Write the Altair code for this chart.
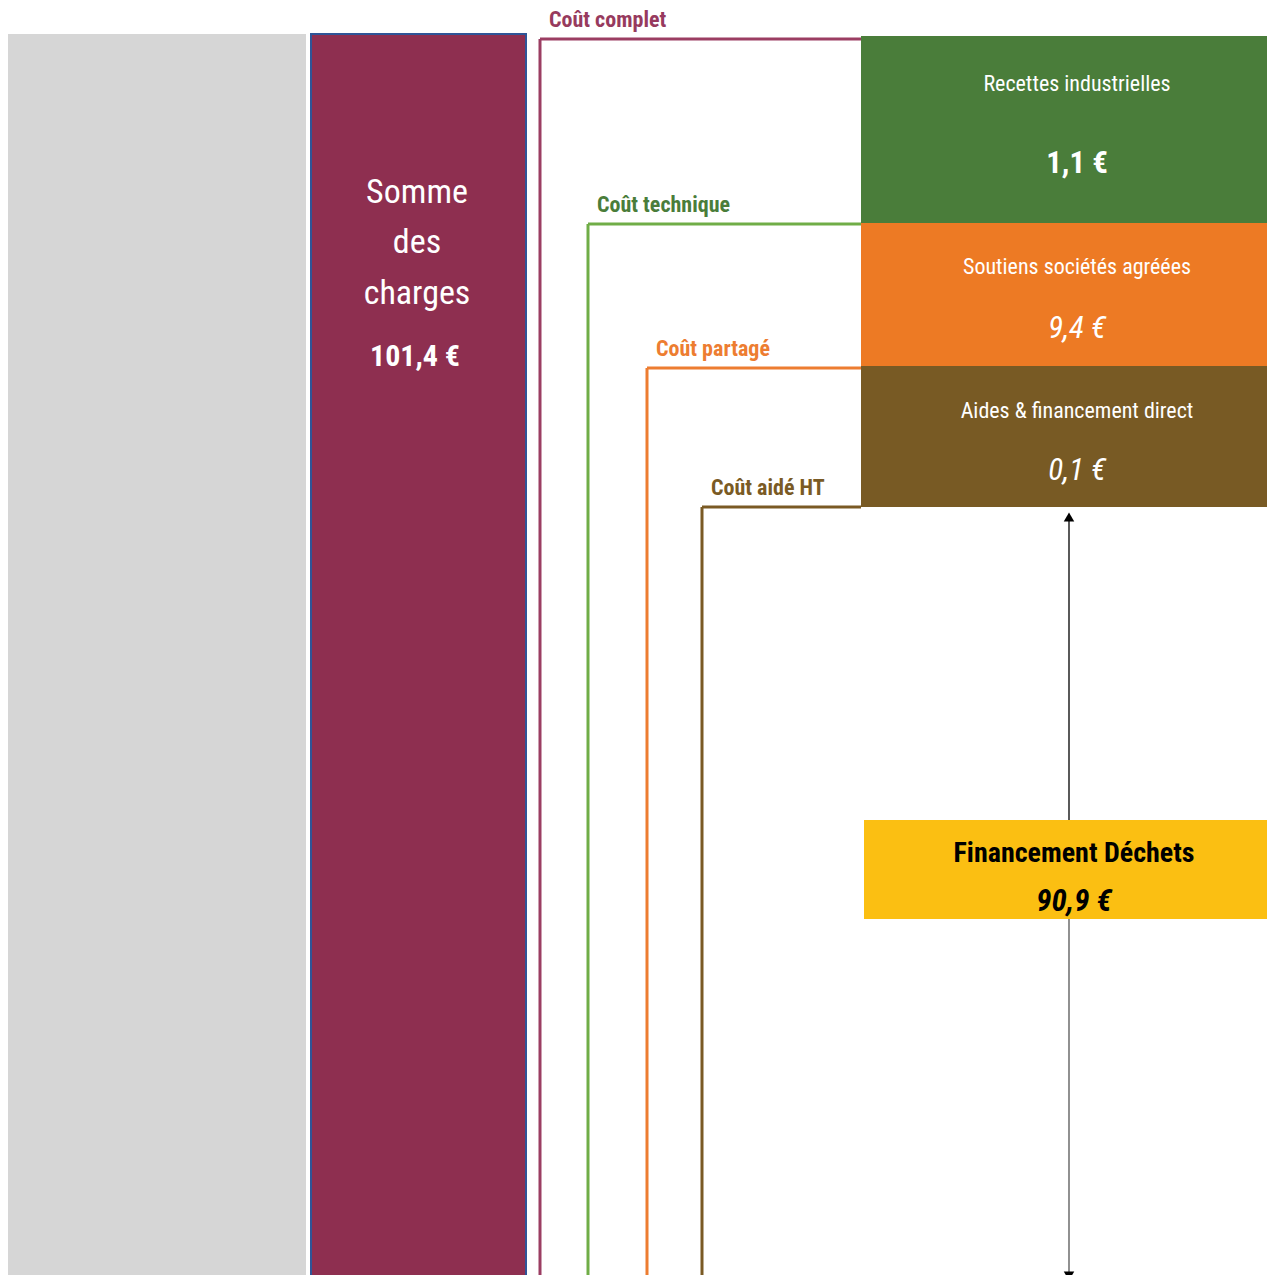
import altair as alt
import pandas as pd

# ---- values ----
total_label = "Somme des charges"
total_value = 101.4
segments = ["Recettes industrielles", "Soutiens sociétés agréées", "Aides & financement direct"]
segment_values = [1.1, 9.4, 0.1]
funding_label = "Financement Déchets"
funding_value = 90.9
cost_levels = ["Coût complet", "Coût technique", "Coût partagé", "Coût aidé HT"]

# ---- schematic layout (diagram units) ----
seg_top = [36, 223, 366]
seg_bottom = [223, 366, 507]
seg_colors = ["#4a7d3a", "#ed7a24", "#785a24"]
seg_name_frac = [0.257, 0.31, 0.32]
seg_val_frac = [0.684, 0.74, 0.745]
bracket_x = [540, 588, 647, 702]
bracket_top = [39, 224, 368, 507]
bracket_line_colors = ["#9b3d62", "#70ad47", "#ed7d31", "#7a5a24"]
bracket_text_colors = ["#973a5e", "#4a7d3a", "#ed7d31", "#7a5a24"]
stack_left, stack_right = 861, 1275
bottom = 1283

FONT = "Roboto Condensed, DejaVu Sans Condensed, sans-serif"

X = alt.Scale(domain=[8, 1267], nice=False, zero=False)
Y = alt.Scale(domain=[8, 1275], nice=False, zero=False, reverse=True)


def xq(f):
    return alt.X(f, type="quantitative", scale=X, axis=None)


def yq(f):
    return alt.Y(f, type="quantitative", scale=Y, axis=None)


def euro(v):
    return f"{v:.1f}".replace(".", ",") + " €"


cols = pd.DataFrame({
    "name": ["fond", total_label],
    "x": [8, 311], "x2": [305, 526],
    "y": [35, 34], "y2": [bottom, bottom],
    "fill": ["#d6d6d6", "#8e2f50"],
    "stroke": ["#d6d6d6", "#2f5597"],
})
col_layer = alt.Chart(cols).mark_rect(strokeWidth=2).encode(
    x=xq("x"), x2="x2", y=yq("y"), y2="y2",
    fill=alt.Fill("fill:N", scale=None), stroke=alt.Stroke("stroke:N", scale=None),
)

br = pd.DataFrame({
    "name": cost_levels, "x": bracket_x, "top": bracket_top,
    "right": [stack_left] * 4, "bottom": [bottom] * 4,
    "lc": bracket_line_colors, "tc": bracket_text_colors,
})
br_v = alt.Chart(br).mark_rule(strokeWidth=3).encode(
    x=xq("x"), y=yq("top"), y2="bottom", color=alt.Color("lc:N", scale=None))
br_h = alt.Chart(br).mark_rule(strokeWidth=3).encode(
    x=xq("x"), x2="right", y=yq("top"), color=alt.Color("lc:N", scale=None))
br_t = alt.Chart(br).mark_text(font=FONT, fontSize=22, fontWeight="bold", align="left",
                               baseline="middle", dx=9, dy=-19).encode(
    x=xq("x"), y=yq("top"), text="name:N", color=alt.Color("tc:N", scale=None))

seg = pd.DataFrame({
    "name": segments, "value": segment_values,
    "top": seg_top, "bottom": seg_bottom, "fill": seg_colors,
    "nf": seg_name_frac, "vf": seg_val_frac,
    "l": [stack_left] * 3, "r": [stack_right] * 3,
})
seg["cx"] = 1077
seg["vtxt"] = seg["value"].map(euro)
seg_rect = alt.Chart(seg).mark_rect().encode(
    x=xq("l"), x2="r", y=yq("top"), y2="bottom", fill=alt.Fill("fill:N", scale=None))
seg_name = alt.Chart(seg).mark_text(font=FONT, fontSize=22, color="white", baseline="middle").encode(
    x=xq("cx"), text="name:N", y=yq("ny")).transform_calculate(
    ny="datum.top + (datum.bottom - datum.top) * datum.nf")
seg_val1 = alt.Chart(seg.iloc[[0]]).mark_text(font=FONT, fontSize=31, fontWeight="bold",
                                             color="white", baseline="middle").encode(
    x=xq("cx"), text="vtxt:N", y=yq("vy")).transform_calculate(
    vy="datum.top + (datum.bottom - datum.top) * datum.vf")
seg_val2 = alt.Chart(seg.iloc[1:]).mark_text(font=FONT, fontSize=31, fontStyle="italic",
                                            color="white", baseline="middle").encode(
    x=xq("cx"), text="vtxt:N", y=yq("vy")).transform_calculate(
    vy="datum.top + (datum.bottom - datum.top) * datum.vf")

tot = pd.DataFrame({"t": ["Somme", "des", "charges"], "y": [193, 243, 294], "cx": [417] * 3})
tot_txt = alt.Chart(tot).mark_text(font=FONT, fontSize=34, color="white", baseline="middle").encode(
    x=xq("cx"), y=yq("y"), text="t:N")
totv = pd.DataFrame({"t": [euro(total_value)], "y": [357], "cx": [415]})
totv_txt = alt.Chart(totv).mark_text(font=FONT, fontSize=30, fontWeight="bold", color="white",
                                     baseline="middle").encode(x=xq("cx"), y=yq("y"), text="t:N")

fund = pd.DataFrame({"name": [funding_label], "value": [funding_value],
                     "l": [864], "r": [stack_right], "top": [820], "bottom": [919], "cx": [1074],
                     "ax": [1069], "a0": [seg_bottom[-1] + 8], "a1": [bottom - 9]})
fund["vtxt"] = fund["value"].map(euro)
fund_rect = alt.Chart(fund).mark_rect(color="#fbbf12").encode(
    x=xq("l"), x2="r", y=yq("top"), y2="bottom")
arrow_up = alt.Chart(fund).mark_rule(strokeWidth=1.3, color="black").encode(
    x=xq("ax"), y=yq("a0"), y2="top")
arrow_dn = alt.Chart(fund).mark_rule(strokeWidth=1.3, color="#555555").encode(
    x=xq("ax"), y=yq("bottom"), y2="a1")
head_up = alt.Chart(fund).mark_point(shape="triangle-up", filled=True, color="black", size=110,
                                     opacity=1, yOffset=2).encode(x=xq("ax"), y=yq("a0"))
head_dn = alt.Chart(fund).mark_point(shape="triangle-down", filled=True, color="black", size=110,
                                     opacity=1, yOffset=2).encode(x=xq("ax"), y=yq("a1"))
fund_name = alt.Chart(fund).mark_text(font=FONT, fontSize=28, fontWeight="bold", color="black",
                                      baseline="middle").encode(
    x=xq("cx"), text="name:N", y=yq("ny")).transform_calculate(ny="datum.top + 34")
fund_val = alt.Chart(fund).mark_text(font=FONT, fontSize=31, fontWeight="bold", fontStyle="italic",
                                     color="black", baseline="middle").encode(
    x=xq("cx"), text="vtxt:N", y=yq("vy")).transform_calculate(vy="datum.top + 82")

chart = alt.layer(
    col_layer, br_v, br_h, br_t, seg_rect, seg_name, seg_val1, seg_val2,
    tot_txt, totv_txt, arrow_up, arrow_dn, head_up, head_dn, fund_rect, fund_name, fund_val,
).properties(
    width=1259, height=1267, padding=0, autosize=alt.AutoSizeParams(type="none"),
).configure_view(stroke=None)

chart.save("out.html", embed_options={"renderer": "svg", "actions": False})
